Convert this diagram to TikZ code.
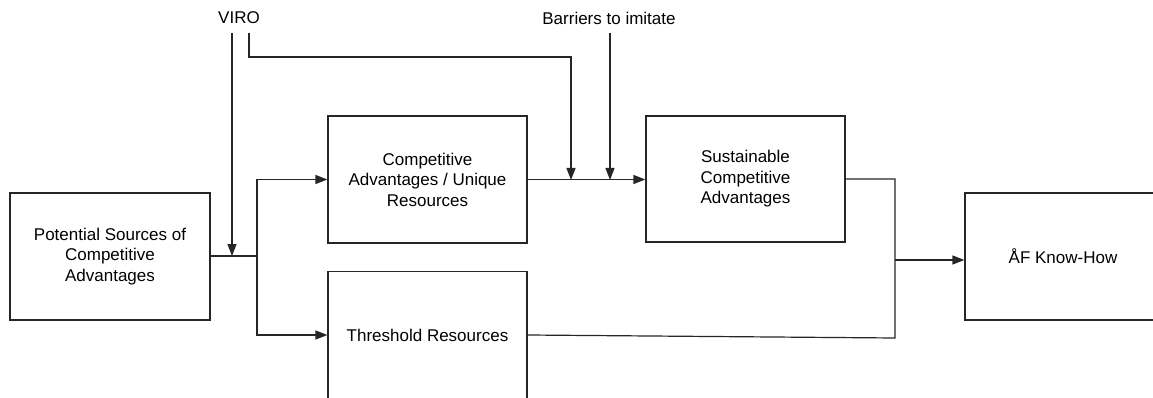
\documentclass[tikz,border=0pt]{standalone}
\usepackage{fontspec}
\setmainfont{Liberation Sans}
\usetikzlibrary{arrows.meta}
\begin{document}
\begin{tikzpicture}[x=1pt,y=-1pt,
  box/.style={draw=black!85, line width=1.2pt, inner sep=2pt, align=center,
    font=\fontsize{17}{20.5}\selectfont},
  lbl/.style={inner sep=0pt, font=\fontsize{17}{20.5}\selectfont},
  line/.style={draw=black!85, line width=1.2pt},
  arr/.style={line, -{Triangle[length=12pt,width=9pt]}}]
\useasboundingbox (0,0) rectangle (1153,398);

% boxes
\node[box, minimum width=200pt, minimum height=127pt] (P) at (110,256.5)
  {Potential Sources of\\Competitive\\Advantages};
\node[box, minimum width=199pt, minimum height=127pt] (C) at (427.5,179.5)
  {Competitive\\Advantages / Unique\\Resources};
\node[box, minimum width=199pt, minimum height=127pt] (T) at (427.5,335)
  {Threshold Resources};
\node[box, minimum width=199pt, minimum height=126pt] (S) at (745.5,179)
  {Sustainable\\Competitive\\Advantages};
\node[box, minimum width=196pt, minimum height=127pt] (K) at (1063,256.5)
  {ÅF Know-How};

% influence labels
\node[lbl] (viro) at (239,18) {VIRO};
\node[lbl] (bar) at (609,18) {Barriers to imitate};

% junction points
\coordinate (j1) at (257,256);
\coordinate (v1) at (232,256);
\coordinate (v2) at (249,33);
\coordinate (v3) at (571,180);
\coordinate (b1) at (610,180);
\coordinate (j3) at (895,338);
\coordinate (j2) at (895,260);

% flows from the potential sources
\draw[line] (P.east |- j1) -- (j1);
\draw[arr] (j1) |- (C.west);
\draw[arr] (j1) |- (T.west);
\draw[arr] (v1 |- 0,33) -- (v1);

% VIRO and barriers acting on the path to sustainability
\draw[arr] (v2) -- (249,57) -| (v3);
\draw[arr] (b1 |- 0,33) -- (b1);
\draw[arr] (C.east) -- (C.east -| S.west);

% merge into the know-how box
\draw[line] (S.east) -| (j3) -- (T.east);
\draw[arr] (j2) -- (j2 -| K.west);
\end{tikzpicture}
\end{document}
